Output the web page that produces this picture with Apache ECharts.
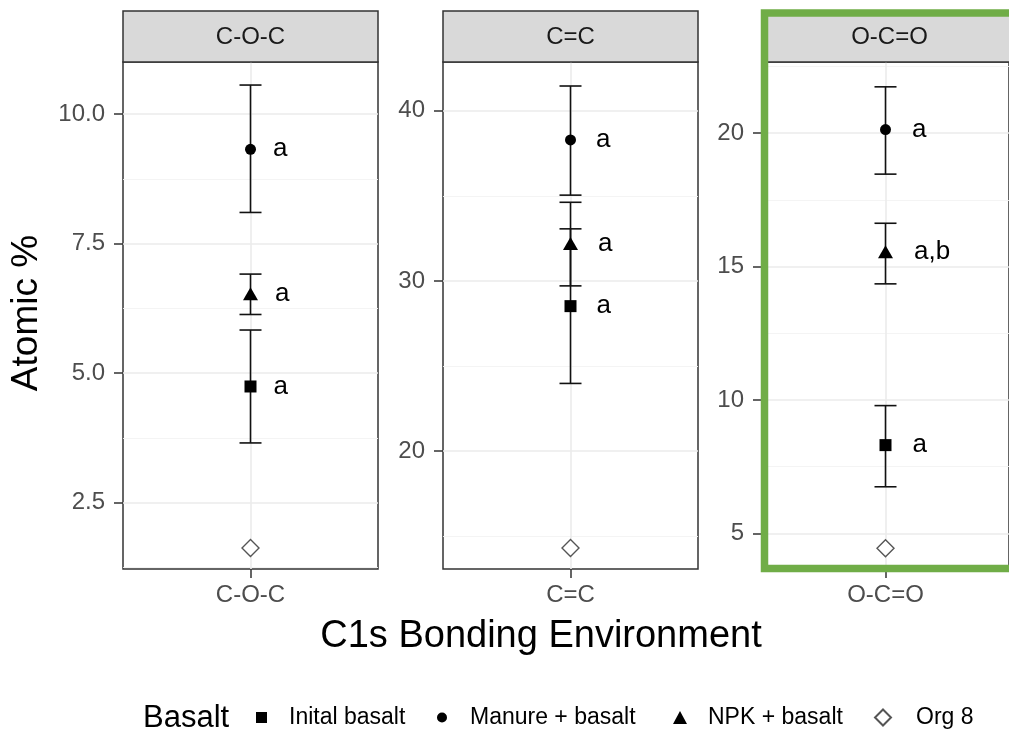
<!DOCTYPE html>
<html>
<head>
<meta charset="utf-8">
<script src="https://cdn.jsdelivr.net/npm/echarts@6/dist/echarts.min.js"></script>
<style>
  html, body { margin: 0; padding: 0; background: #ffffff; }
  #chart { width: 1009px; height: 731px; }
</style>
</head>
<body>
<div id="chart"></div>
<script>
// Facets (C1s bonding environments) and treatments
const categories = ['C-O-C', 'C=C', 'O-C=O'];
const treatments = ['Inital basalt', 'Manure + basalt', 'NPK + basalt', 'Org 8'];

// Atomic % means and error-bar limits, one value per facet
const initialMean = [4.74, 28.52, 8.31];
const initialLow  = [3.65, 23.98, 6.75];
const initialHigh = [5.83, 33.06, 9.79];

const manureMean = [9.32, 38.28, 20.13];
const manureLow  = [8.10, 35.04, 18.46];
const manureHigh = [10.56, 41.45, 21.73];

const npkMean = [6.53, 32.20, 15.55];
const npkLow  = [6.13, 29.71, 14.35];
const npkHigh = [6.91, 34.62, 16.62];

const org8Mean = [1.62, 14.31, 4.45];

// Significance letters
const initialLetters = ['a', 'a', 'a'];
const manureLetters  = ['a', 'a', 'a'];
const npkLetters     = ['a', 'a', 'a,b'];

// Y axis limits and breaks per facet (free scales)
const yLimits = [[1.216, 11.005], [13.08, 42.86], [3.67, 22.66]];
const yMajor = [[2.5, 5, 7.5, 10], [20, 30, 40], [5, 10, 15, 20]];
const yMinor = [[1.25, 3.75, 6.25, 8.75], [15, 25, 35], [7.5, 12.5, 17.5, 22.5]];
const yTickLabels = [['2.5', '5.0', '7.5', '10.0'], ['20', '30', '40'], ['5', '10', '15', '20']];

// Each facet has one discrete position in the middle of its x range
const xPosition = 1;

const panelLeft = [123, 443, 762];
const panelWidth = 255;
const panelTop = 62;
const panelHeight = 507;
const stripTop = 11;
const letterDistance = [17, 20, 21];

const chart = echarts.init(document.getElementById('chart'), null, { renderer: 'canvas' });

const grids = [], xAxes = [], yAxes = [], series = [], graphics = [];

const tickColor = '#333333';
const gridMajor = '#EBEBEB';
const gridMinor = '#F3F3F3';

categories.forEach((cat, i) => {
  grids.push({
    left: panelLeft[i], top: panelTop, width: panelWidth, height: panelHeight,
    show: true, borderColor: '#333333', borderWidth: 1.5, backgroundColor: '#ffffff'
  });

  xAxes.push({
    type: 'value', gridIndex: i, min: 0, max: 2 * xPosition,
    axisLine: { show: false },
    axisTick: { show: true, customValues: [xPosition], length: 9, lineStyle: { color: tickColor, width: 1.5 } },
    axisLabel: {
      show: true, customValues: [xPosition], formatter: () => cat,
      fontSize: 24, color: '#4D4D4D', margin: 14, fontFamily: 'Liberation Sans'
    },
    splitLine: { show: true, customValues: [xPosition], lineStyle: { color: gridMajor, width: 1.6 } }
  });

  // major breaks with labels
  yAxes.push({
    type: 'value', gridIndex: i, min: yLimits[i][0], max: yLimits[i][1],
    axisLine: { show: false },
    axisTick: { show: true, customValues: yMajor[i], length: 9, lineStyle: { color: tickColor, width: 1.5 } },
    axisLabel: {
      show: true, customValues: yMajor[i],
      formatter: v => yTickLabels[i][yMajor[i].indexOf(v)] ?? String(v),
      fontSize: 24, color: '#4D4D4D', margin: 18, fontFamily: 'Liberation Sans'
    },
    splitLine: { show: true, customValues: yMajor[i], lineStyle: { color: gridMajor, width: 1.6 } },
    z: 1
  });
});

// minor breaks (grid lines only), added after the major axes
categories.forEach((cat, i) => {
  yAxes.push({
    type: 'value', gridIndex: i, min: yLimits[i][0], max: yLimits[i][1], position: 'right',
    axisLine: { show: false },
    axisTick: { show: false, customValues: yMinor[i] },
    axisLabel: { show: false },
    splitLine: { show: true, customValues: yMinor[i], lineStyle: { color: gridMinor, width: 0.9 } },
    z: 0
  });
});

// Error bars
function renderErrorBar(params, api) {
  const x = api.value(0);
  const lo = api.coord([x, api.value(1)]);
  const hi = api.coord([x, api.value(2)]);
  const hw = 11;
  const style = { stroke: '#111111', lineWidth: 1.6 };
  return {
    type: 'group',
    children: [
      { type: 'line', shape: { x1: lo[0], y1: lo[1], x2: hi[0], y2: hi[1] }, style },
      { type: 'line', shape: { x1: lo[0] - hw, y1: lo[1], x2: lo[0] + hw, y2: lo[1] }, style },
      { type: 'line', shape: { x1: hi[0] - hw, y1: hi[1], x2: hi[0] + hw, y2: hi[1] }, style }
    ]
  };
}

categories.forEach((cat, i) => {
  series.push({
    type: 'custom', name: 'errorbars-' + cat, xAxisIndex: i, yAxisIndex: i,
    renderItem: renderErrorBar, silent: true, z: 3,
    data: [
      [xPosition, initialLow[i], initialHigh[i]],
      [xPosition, manureLow[i], manureHigh[i]],
      [xPosition, npkLow[i], npkHigh[i]]
    ],
    encode: { x: 0, y: [1, 2] }
  });
});

const treatmentStyle = {
  'Inital basalt':   { symbol: 'rect', size: 12, itemStyle: { color: '#000000', opacity: 1 } },
  'Manure + basalt': { symbol: 'circle', size: 11, itemStyle: { color: '#000000', opacity: 1 } },
  'NPK + basalt':    { symbol: 'triangle', size: [15, 13], itemStyle: { color: '#000000', opacity: 1 } },
  'Org 8':           { symbol: 'diamond', size: 17, itemStyle: { color: '#ffffff', borderColor: '#555555', borderWidth: 1.4, opacity: 1 } }
};

const treatmentMeans = [initialMean, manureMean, npkMean, org8Mean];
const treatmentLetters = [initialLetters, manureLetters, npkLetters, null];

categories.forEach((cat, i) => {
  treatments.forEach((t, k) => {
    const st = treatmentStyle[t];
    const letters = treatmentLetters[k];
    series.push({
      type: 'scatter', name: t, xAxisIndex: i, yAxisIndex: i, z: 5,
      symbol: st.symbol, symbolSize: st.size, itemStyle: st.itemStyle,
      data: [[xPosition, treatmentMeans[k][i]]],
      label: letters ? {
        show: true, position: 'right', distance: letterDistance[i],
        formatter: () => letters[i],
        fontSize: 26, color: '#000000', fontFamily: 'Liberation Sans'
      } : { show: false },
      emphasis: { disabled: true }
    });
  });
});

// Facet strips
categories.forEach((cat, i) => {
  graphics.push({
    type: 'rect', z: 10,
    shape: { x: panelLeft[i], y: stripTop, width: panelWidth, height: panelTop - stripTop },
    style: { fill: '#D9D9D9', stroke: '#333333', lineWidth: 1.5 }
  });
  graphics.push({
    type: 'text', z: 11,
    x: panelLeft[i] + panelWidth / 2, y: (stripTop + panelTop) / 2 + 1,
    style: { text: cat, fontSize: 24, fill: '#1A1A1A', fontFamily: 'Liberation Sans', align: 'center', verticalAlign: 'middle' }
  });
});

// Highlight frame around the O-C=O facet
graphics.push({
  type: 'rect', z: 20,
  shape: { x: 764.5, y: 13, width: 320, height: 555.5 },
  style: { fill: 'none', stroke: '#70AD47', lineWidth: 7.5 }
});

// Axis titles
graphics.push({
  type: 'text', z: 11, x: 27, y: 313, rotation: Math.PI / 2,
  style: { text: 'Atomic %', fontSize: 37, fill: '#000000', fontFamily: 'Liberation Sans', align: 'center', verticalAlign: 'middle' }
});
graphics.push({
  type: 'text', z: 11, x: 541, y: 637,
  style: { text: 'C1s Bonding Environment', fontSize: 38, fill: '#000000', fontFamily: 'Liberation Sans', align: 'center', verticalAlign: 'middle' }
});
// Legend title
graphics.push({
  type: 'text', z: 11, x: 143, y: 718,
  style: { text: 'Basalt', fontSize: 31, fill: '#000000', fontFamily: 'Liberation Sans', align: 'left', verticalAlign: 'middle' }
});

// Legend entries, one per treatment
const legendSpec = [
  { name: 'Inital basalt',   icon: 'rect',     w: 11, h: 11, left: 251,   pad: 17 },
  { name: 'Manure + basalt', icon: 'circle',   w: 10, h: 10, left: 432,   pad: 18 },
  { name: 'NPK + basalt',    icon: 'triangle', w: 14, h: 13, left: 668,   pad: 16 },
  { name: 'Org 8',           icon: 'diamond',  w: 16, h: 16, left: 869,   pad: 20 }
];
const legends = legendSpec.map(s => ({
  left: s.left, top: 701, orient: 'horizontal',
  itemWidth: s.w, itemHeight: s.h, selectedMode: false,
  data: [{ name: s.name, icon: s.icon }],
  textStyle: { fontSize: 23, color: '#000000', fontFamily: 'Liberation Sans', padding: [0, 0, 0, s.pad] }
}));

chart.setOption({
  animation: false,
  backgroundColor: '#ffffff',
  grid: grids,
  xAxis: xAxes,
  yAxis: yAxes,
  series: series,
  legend: legends,
  graphic: graphics
});
</script>
</body>
</html>
